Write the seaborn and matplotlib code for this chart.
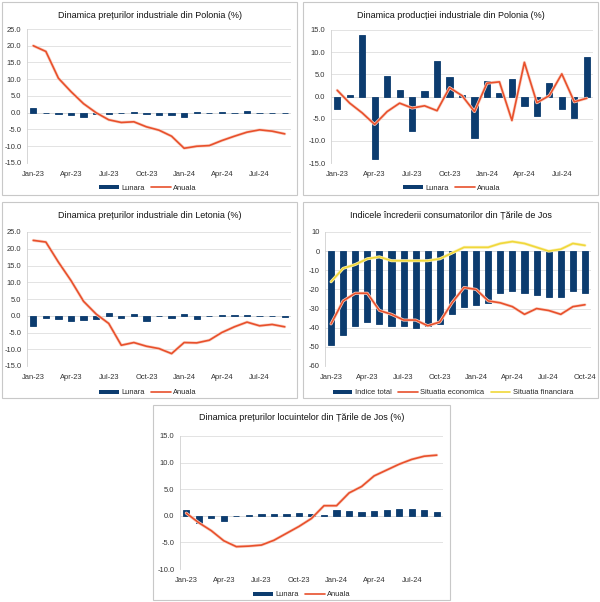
import numpy as np
import seaborn as sns
import matplotlib.pyplot as plt
import matplotlib.patheffects as pe
from matplotlib.patches import Patch, Rectangle
from matplotlib.lines import Line2D

# date
luni_21 = ['Jan-23', 'Feb-23', 'Mar-23', 'Apr-23', 'May-23', 'Jun-23', 'Jul-23', 'Aug-23', 'Sep-23',
           'Oct-23', 'Nov-23', 'Dec-23', 'Jan-24', 'Feb-24', 'Mar-24', 'Apr-24', 'May-24', 'Jun-24',
           'Jul-24', 'Aug-24', 'Sep-24']
luni_22 = luni_21 + ['Oct-24']

pl_pret_lunara = [1.3, -0.2, -0.3, -0.8, -1.2, -0.4, -0.5, 0.0, 0.1, -0.4, -0.7, -0.8, -1.2,
                  0.1, -0.2, 0.2, -0.1, 0.4, -0.1, -0.2, -0.2]
pl_pret_anuala = [20.0, 18.3, 10.3, 6.3, 2.7, 0.0, -2.1, -2.9, -2.7, -4.2, -5.2, -7.0, -10.6,
                  -10.0, -9.8, -8.3, -7.0, -5.8, -5.1, -5.5, -6.3]

pl_prod_lunara = [-2.8, 0.4, 13.8, -14.2, 4.6, 1.4, -7.7, 1.2, 8.0, 4.4, 0.3, -9.4, 3.6,
                  0.8, 3.9, -2.2, -4.4, 3.0, -2.8, -4.8, 9.0]
pl_prod_anuala = [1.4, -1.5, -3.7, -6.3, -3.4, -1.5, -2.6, -2.1, -3.2, 2.0, 0.2, -3.4, 3.0,
                  3.3, -5.4, 7.7, -1.4, 0.2, 5.1, -1.2, -0.4]

lv_pret_lunara = [-3.0, -0.6, -1.0, -1.6, -1.2, -1.0, 0.7, -0.6, 0.4, -1.6, 0.0, -0.7, 0.5,
                  -0.9, -0.2, 0.1, 0.3, 0.1, -0.2, 0.0, -0.3]
lv_pret_anuala = [22.5, 22.0, 16.0, 10.5, 4.3, 0.5, -2.3, -8.8, -8.0, -9.1, -9.8, -11.3, -8.0,
                  -8.1, -7.3, -5.0, -3.3, -1.9, -3.0, -2.6, -3.3]

nl_indice_total = [-49, -44, -39, -37, -38, -39, -39, -40, -39, -38, -33, -29, -28, -27, -22,
                   -21, -22, -23, -24, -24, -21, -22]
nl_sit_economica = [-38, -26, -22, -22, -31, -33, -36, -36, -39, -37, -27, -19, -20, -26, -27,
                    -29, -33, -30, -31, -33, -29, -28]
nl_sit_financiara = [-16, -9, -7, -4, -3, -5, -5, -5, -5, -4, -1, 2, 2, 2, 4, 5, 4, 2, 0, 1, 4, 3]

nl_locuinte_lunara = [1.0, -1.3, -0.4, -1.0, 0.0, 0.1, 0.4, 0.4, 0.4, 0.6, 0.4, 0.2, 1.0,
                      0.9, 0.7, 0.9, 1.0, 1.2, 1.3, 1.0, 0.8]
nl_locuinte_anuala = [0.5, -1.3, -2.8, -4.7, -5.8, -5.7, -5.5, -4.6, -3.3, -2.0, -0.5, 1.9, 1.9,
                      4.3, 5.5, 7.5, 8.6, 9.7, 10.6, 11.2, 11.4]

ALBASTRU = '#0C3C6F'
PORTOCALIU = '#E8502C'
GALBEN = '#F0D83A'
W, H = 600, 602

sns.set_style('white')
plt.rcParams['font.family'] = ['Liberation Sans', 'DejaVu Sans']

fig = plt.figure(figsize=(6, 6.02), dpi=100)


def fr(x0, y0, x1, y1):
    # pixeli (sus-stanga) -> fractii din figura
    return [x0 / W, 1 - y1 / H, (x1 - x0) / W, (y1 - y0) / H]


def panou(box, plot, titlu, ylim, pas, fmt):
    fig.patches.append(Rectangle((box[0] / W, 1 - box[3] / H), (box[2] - box[0]) / W,
                                 (box[3] - box[1]) / H, transform=fig.transFigure,
                                 fill=False, edgecolor='#c8c8c8', linewidth=0.8))
    fig.text((box[0] + box[2]) / 2 / W, 1 - (box[1] + 13) / H, titlu, ha='center', va='center',
             fontsize=6.5, color='#111111')
    ax = fig.add_axes(fr(*plot))
    ax.set_ylim(*ylim)
    ax.set_yticks(np.arange(ylim[0], ylim[1] + 0.01, pas))
    ax.yaxis.set_major_formatter(plt.FuncFormatter(lambda v, _: format(v, fmt)))
    ax.grid(axis='y', color='#dedede', linewidth=0.6)
    ax.set_axisbelow(True)
    for s in ['top', 'right', 'bottom']:
        ax.spines[s].set_visible(False)
    ax.spines['left'].set_color('#d0d0d0')
    ax.spines['left'].set_linewidth(0.6)
    ax.axhline(0, color='#d0d0d0', linewidth=0.6, zorder=0.5)
    ax.tick_params(axis='y', length=0, labelsize=5.4, colors='#333333', pad=4)
    ax.tick_params(axis='x', length=0, labelsize=5.4, colors='#333333', pad=6)
    return ax


def bare(ax, luni, vals):
    sns.barplot(x=luni, y=vals, ax=ax, color=ALBASTRU, width=0.5, saturation=1,
                edgecolor=ALBASTRU, linewidth=0.6, zorder=3)


def finisaj(ax, luni):
    n = len(luni)
    ax.set_xlim(-0.5, n - 0.5)
    pozitii = list(range(0, n, 3))
    ax.set_xticks(pozitii)
    ax.set_xticklabels([luni[i] for i in pozitii])
    ax.set_xlabel('')
    ax.set_ylabel('')
    if ax.get_legend():
        ax.get_legend().remove()


def linie(ax, vals, culoare, lw=1.2, umbra='#fad3c6'):
    sns.lineplot(x=np.arange(len(vals)), y=vals, ax=ax, color=culoare, linewidth=lw, zorder=4,
                 path_effects=[pe.Stroke(linewidth=lw + 1.0, foreground=umbra), pe.Normal()])


def legenda(x, y, etichete, tipuri):
    handles = []
    for (culoare, tip) in tipuri:
        if tip == 'bar':
            handles.append(Patch(facecolor=culoare, edgecolor='none'))
        else:
            handles.append(Line2D([], [], color=culoare, linewidth=1.2))
    fig.legend(handles, etichete, loc='center', bbox_to_anchor=(x / W, 1 - y / H), ncol=len(etichete),
               frameon=False, fontsize=5.4, handlelength=2.6, handleheight=0.55, columnspacing=0.9,
               handletextpad=0.3, borderaxespad=0, borderpad=0)


# 1. preturi industriale Polonia
ax1 = panou((2, 2, 297, 195), (27, 29, 291, 163), 'Dinamica prețurilor industriale din Polonia (%)',
            (-15, 25), 5, '.1f')
bare(ax1, luni_21, pl_pret_lunara)
linie(ax1, pl_pret_anuala, PORTOCALIU)
finisaj(ax1, luni_21)
legenda(148, 188, ['Lunara', 'Anuala'], [(ALBASTRU, 'bar'), (PORTOCALIU, 'line')])

# 2. productie industriala Polonia
ax2 = panou((303, 2, 598, 195), (331, 30, 593, 163), 'Dinamica producției industriale din Polonia (%)',
            (-15, 15), 5, '.1f')
bare(ax2, luni_21, pl_prod_lunara)
linie(ax2, pl_prod_anuala, PORTOCALIU)
finisaj(ax2, luni_21)
legenda(452, 188, ['Lunara', 'Anuala'], [(ALBASTRU, 'bar'), (PORTOCALIU, 'line')])

# 3. preturi industriale Letonia
ax3 = panou((2, 202, 297, 398), (27, 232, 291, 366), 'Dinamica prețurilor industriale din Letonia (%)',
            (-15, 25), 5, '.1f')
bare(ax3, luni_21, lv_pret_lunara)
linie(ax3, lv_pret_anuala, PORTOCALIU)
finisaj(ax3, luni_21)
legenda(148, 393, ['Lunara', 'Anuala'], [(ALBASTRU, 'bar'), (PORTOCALIU, 'line')])

# 4. increderea consumatorilor Tarile de Jos
ax4 = panou((303, 202, 598, 398), (325, 232, 591, 366), 'Indicele încrederii consumatorilor din Țările de Jos',
            (-60, 10), 10, '.0f')
bare(ax4, luni_22, nl_indice_total)
linie(ax4, nl_sit_economica, PORTOCALIU)
linie(ax4, nl_sit_financiara, GALBEN, umbra='#fbf0b8')
finisaj(ax4, luni_22)
legenda(453, 393, ['Indice total', 'Situatia economica', 'Situatia financiara'],
        [(ALBASTRU, 'bar'), (PORTOCALIU, 'line'), (GALBEN, 'line')])

# 5. preturi locuinte Tarile de Jos
ax5 = panou((153, 405, 450, 600), (180, 436, 443, 569), 'Dinamica prețurilor locuintelor din Țările de Jos (%)',
            (-10, 15), 5, '.1f')
bare(ax5, luni_21, nl_locuinte_lunara)
linie(ax5, nl_locuinte_anuala, PORTOCALIU)
finisaj(ax5, luni_21)
legenda(302, 595, ['Lunara', 'Anuala'], [(ALBASTRU, 'bar'), (PORTOCALIU, 'line')])

plt.savefig('out.png', dpi=100)
